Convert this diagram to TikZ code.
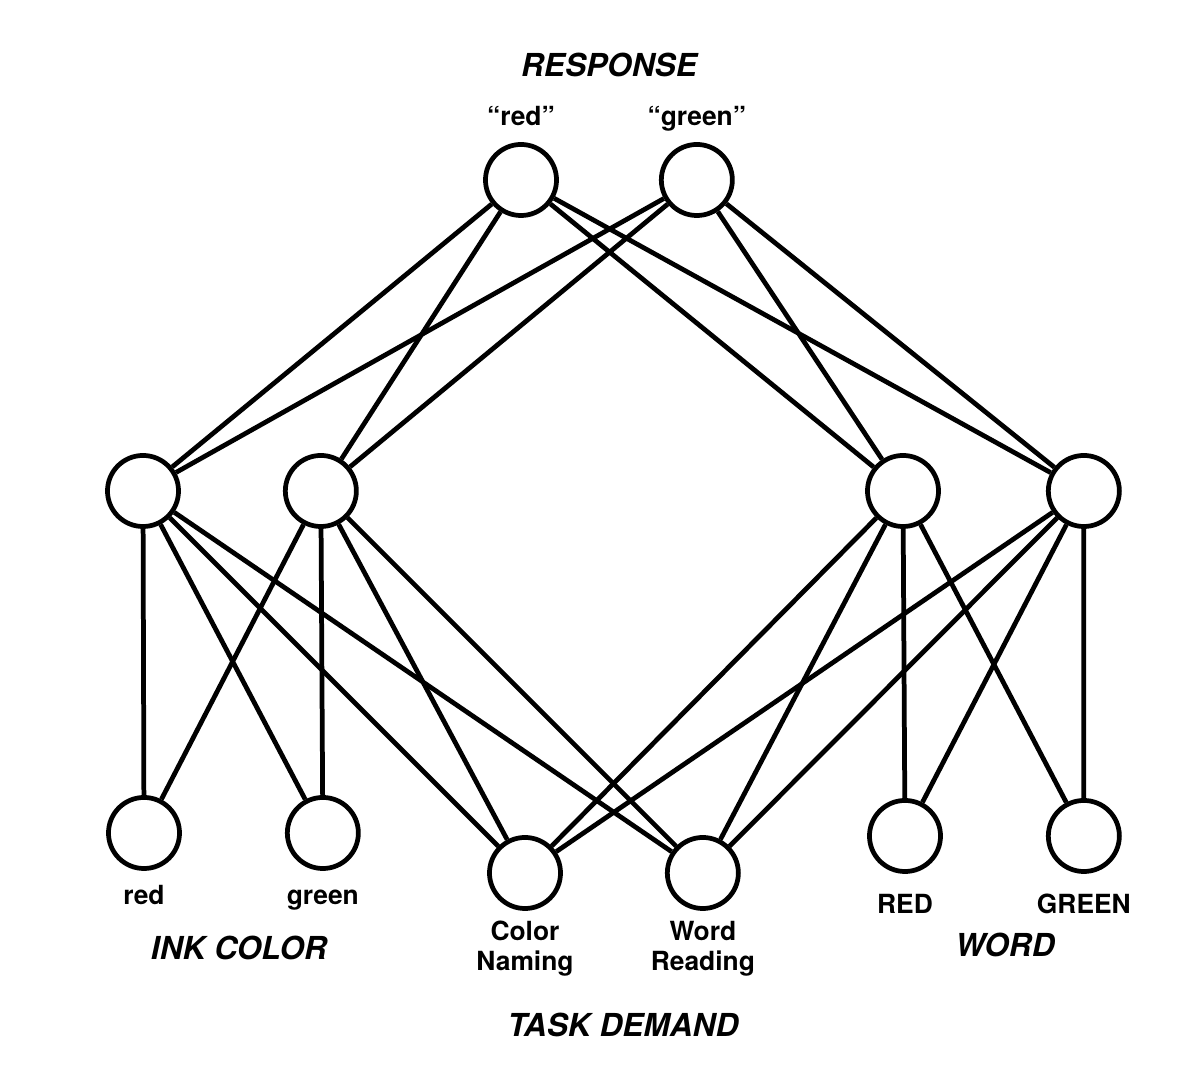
\documentclass[tikz,border=0pt]{standalone}
\usepackage{fontspec}
\setmainfont{TeX Gyre Heros}
\usetikzlibrary{positioning}

\begin{document}
\begin{tikzpicture}[x=0.01cm, y=-0.01cm, line width=1.35pt,
		unit/.style={draw, circle, inner sep=0pt, minimum size=0.71cm},
		lbl/.style={inner sep=0pt, font=\fontsize{7.5}{8.5}\selectfont\bfseries, text height=6pt, text depth=1.6pt},
		tasklbl/.style={inner sep=0pt, align=center, font=\fontsize{7.5}{8.5}\selectfont\bfseries},
		title/.style={inner sep=0pt, anchor=base, font=\fontsize{9}{10}\selectfont\bfseries\itshape}]
		\useasboundingbox (0,0) rectangle (1184,1080);
		
		\node[unit] (respred) at (521,180) {};
		\node[unit, right = 1cm of respred] (respgreen) {};
		\node[unit] (inkredh) at (143,491) {};
		\node[unit, right = 1.02cm of inkredh] (inkgreenh) {};
		\node[unit] (wordredh) at (903,491) {};
		\node[unit, right = 1.05cm of wordredh] (wordgreenh) {};
		\node[unit] (inkred) at (144,833) {};
		\node[unit, right = 1.03cm of inkred] (inkgreen) {};
		\node[unit] (colornaming) at (525,873) {};
		\node[unit, right = 1.02cm of colornaming] (wordreading) {};
		\node[unit] (wordred) at (905,836) {};
		\node[unit, right = 1.03cm of wordred] (wordgreen) {};
		
		\node[lbl, above = 0.09cm of respred] (respredtxt) {``red''};
		\node[lbl, above = 0.09cm of respgreen] (respgreentxt) {``green''};
		\node[lbl, below = 0.1cm of inkred] (inkredtxt) {red};
		\node[lbl, below = 0.1cm of inkgreen] (inkgreentxt) {green};
		\node[tasklbl, below = 0.08cm of colornaming] (colornamingtxt) {Color\\Naming};
		\node[tasklbl, below = 0.08cm of wordreading] (wordreadingtxt) {Word\\Reading};
		\node[lbl, below = 0.16cm of wordred] (wordredtxt) {RED};
		\node[lbl, below = 0.16cm of wordgreen] (wordgreentxt) {GREEN};
		
		\node[title] (response) at (609,77) {RESPONSE};
		\node[title] (inkcolor) at (239,960) {INK COLOR};
		\node[title] (taskdemand) at (623,1037) {TASK DEMAND};
		\node[title] (word) at (1005,957) {WORD};
		
		\draw (respred) to (inkredh);
		\draw (respred) to (inkgreenh);
		\draw (respred) to (wordredh);
		\draw (respred) to (wordgreenh);
		\draw (respgreen) to (inkredh);
		\draw (respgreen) to (inkgreenh);
		\draw (respgreen) to (wordredh);
		\draw (respgreen) to (wordgreenh);
		
		\draw (inkredh) to (inkred);
		\draw (inkredh) to (inkgreen);
		\draw (inkredh) to (colornaming);
		\draw (inkredh) to (wordreading);
		\draw (inkgreenh) to (inkred);
		\draw (inkgreenh) to (inkgreen);
		\draw (inkgreenh) to (colornaming);
		\draw (inkgreenh) to (wordreading);
		
		\draw (wordredh) to (colornaming);
		\draw (wordredh) to (wordreading);
		\draw (wordredh) to (wordred);
		\draw (wordredh) to (wordgreen);
		\draw (wordgreenh) to (colornaming);
		\draw (wordgreenh) to (wordreading);
		\draw (wordgreenh) to (wordred);
		\draw (wordgreenh) to (wordgreen);
		
		\end{tikzpicture}
\end{document}
